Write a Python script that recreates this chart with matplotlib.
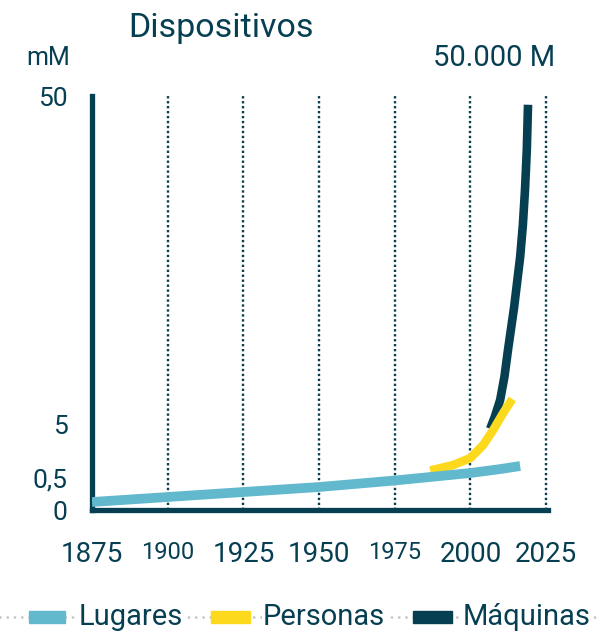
import numpy as np
import matplotlib
matplotlib.use("Agg")
import matplotlib.pyplot as plt
from matplotlib.patches import Rectangle
from matplotlib.lines import Line2D

# ---- data ----
lugares_years = [1875, 1900, 1925, 1950, 1975, 2000, 2010, 2016.4]
lugares_vals = [0.125, 0.203, 0.281, 0.359, 0.461, 0.917, 1.25, 1.5]

personas_years = [1986.7, 1994.3, 2000, 2004.2, 2007.5, 2010.8, 2013.8]
personas_vals = [1.125, 1.58, 2.17, 3.25, 4.5, 6.51, 8.43]

maquinas_years = [2006.5, 2008, 2009.8, 2011.2, 2012.4, 2014.4, 2016.4, 2017.3, 2018, 2018.6, 2019]
maquinas_vals = [4.6, 5.96, 8.3, 11.45, 15.2, 21.0, 27.9, 32.3, 37.1, 42.6, 48.8]

grid_years = [1900, 1925, 1950, 1975, 2000, 2025]
x_ticks = [1875, 1900, 1925, 1950, 1975, 2000, 2025]
x_tick_labels = ["1875", "1900", "1925", "1950", "1975", "2000", "2025"]
y_ticks = [0, 0.5, 5, 50]
y_tick_labels = ["0", "0,5", "5", "50"]
legend_labels = ["Lugares", "Personas", "Máquinas"]

# ---- style ----
DARK = "#073f52"
C_LUG = "#62b8cc"
C_PER = "#fcd91c"
C_MAQ = "#063f51"
FONT = ["Roboto", "DejaVu Sans"]
plt.rcParams["font.family"] = FONT

# piecewise scale (value -> pixel-like position)
SV = [0, 0.5, 5, 50]
SP = [0, 32, 86, 414]
def fwd(v):
    return np.interp(v, SV, SP)
def inv(p):
    return np.interp(p, SP, SV)

fig = plt.figure(figsize=(6.01, 6.34), dpi=100)
ax = fig.add_axes([92 / 601, (634 - 510) / 634, 456 / 601, 414 / 634])
ax.set_yscale("function", functions=(fwd, inv))
ax.set_xlim(1875, 2025.6)
ax.set_ylim(0, 50)

for g in grid_years:
    ax.plot([g, g], [0, 50], color=DARK, lw=1.7, linestyle=(0, (1, 1.1)),
            zorder=1, clip_on=False)

ax.plot(maquinas_years, maquinas_vals, color=C_MAQ, lw=6.2, solid_capstyle="butt",
        solid_joinstyle="round", zorder=2)
ax.plot(personas_years, personas_vals, color=C_PER, lw=6.2, solid_capstyle="butt",
        solid_joinstyle="round", zorder=2.5)
ax.plot(lugares_years, lugares_vals, color=C_LUG, lw=7.0, solid_capstyle="butt",
        solid_joinstyle="round", zorder=3)

for s in ["top", "right"]:
    ax.spines[s].set_visible(False)
for s in ["left", "bottom"]:
    ax.spines[s].set_color(DARK)
    ax.spines[s].set_linewidth(3.8)
    ax.spines[s].set_capstyle("projecting")

ax.set_xticks(x_ticks)
ax.set_xticklabels(x_tick_labels)
for lab, t in zip(ax.get_xticklabels(), x_ticks):
    lab.set_fontsize(17 if t in (1900, 1975) else 20)
ax.set_yticks(y_ticks)
ax.set_yticklabels(y_tick_labels)
ax.tick_params(axis="both", length=0, colors=DARK, labelcolor=DARK)
ax.tick_params(axis="x", pad=22)
ax.tick_params(axis="y", labelsize=19, pad=17.5)
ax.minorticks_off()

fig.text(128 / 601, 1 - 28 / 634, "Dispositivos", fontsize=24.5, color=DARK,
         ha="left", va="center")
fig.text(70 / 601, 1 - 58 / 634, "mM", fontsize=18, color=DARK, ha="right", va="center")
fig.text(555 / 601, 1 - 58 / 634, "50.000 M", fontsize=21, color=DARK, ha="right", va="center")

# legend with dotted grey rule
ly = 1 - 617 / 634
fig.add_artist(Line2D([0, 1], [ly, ly], transform=fig.transFigure, color="#c4c4c4",
                      lw=2.0, linestyle=(0, (0.01, 2.6)), dash_capstyle="round", zorder=1))
sw = [(29, 65, 79), (211, 250, 263), (413, 452, 463)]
for (x0, x1, tx), lab, c in zip(sw, legend_labels, [C_LUG, C_PER, C_MAQ]):
    fig.add_artist(Rectangle((x0 / 601, ly - 6 / 634), (x1 - x0) / 601, 12 / 634,
                             transform=fig.transFigure, color=c, zorder=3))
    fig.text(tx / 601, ly, lab, fontsize=21, color=DARK, ha="left", va="center", zorder=3,
             bbox=dict(facecolor="white", edgecolor="none", pad=1.0))

fig.savefig("out.png", dpi=100)
